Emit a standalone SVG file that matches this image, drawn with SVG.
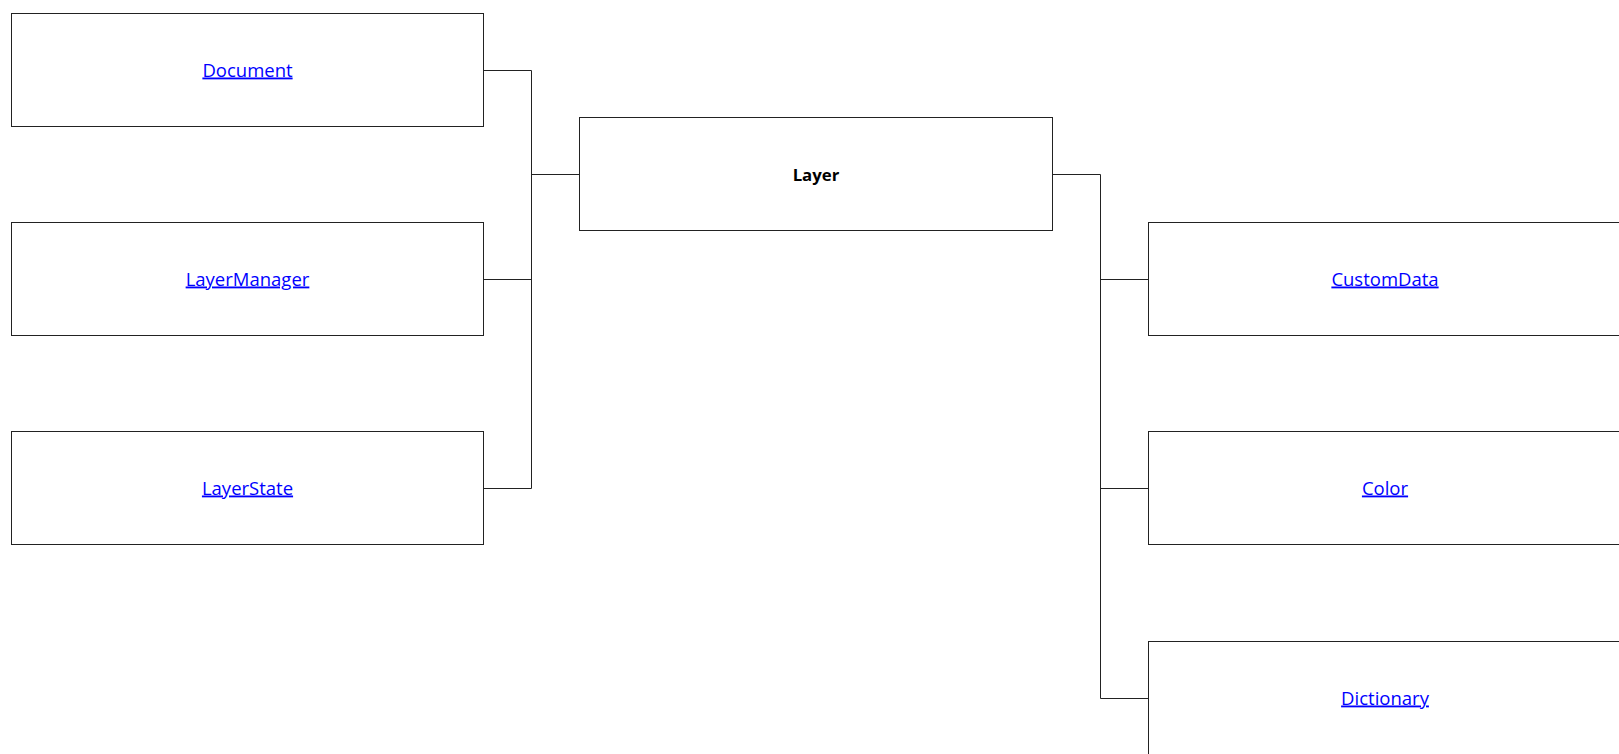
<svg xmlns="http://www.w3.org/2000/svg" width="1619" height="754" viewBox="0 0 1619 754">
<style>
.box{fill:#ffffff;stroke:#222222;stroke-width:1}
.link{font-family:"Open Sans","Noto Sans",sans-serif;font-size:18.5px;fill:#0000ff;text-decoration:underline;text-anchor:middle}
.main{font-family:"Open Sans","Noto Sans",sans-serif;font-size:16.8px;font-weight:bold;fill:#000000;text-anchor:middle}
.conn{fill:none;stroke:#222222;stroke-width:1}
</style>
<rect width="1619" height="754" fill="#ffffff"/>
<g id="connectors">
<path class="conn" d="M483.5,70.5 H531.5 V488.5 H483.5"/>
<path class="conn" d="M483.5,279.5 H531.5"/>
<path class="conn" d="M531.5,174.5 H579.5"/>
<path class="conn" d="M1052.5,174.5 H1100.5 V698.5 H1148.5"/>
<path class="conn" d="M1100.5,279.5 H1148.5"/>
<path class="conn" d="M1100.5,488.5 H1148.5"/>
</g>
<g id="node-document">
<rect class="box" x="11.5" y="13.5" width="472" height="113"/>
<text class="link" x="247.5" y="76.5">Document</text>
</g>
<g id="node-layermanager">
<rect class="box" x="11.5" y="222.5" width="472" height="113"/>
<text class="link" x="247.5" y="285.5">LayerManager</text>
</g>
<g id="node-layerstate">
<rect class="box" x="11.5" y="431.5" width="472" height="113"/>
<text class="link" x="247.5" y="494.5">LayerState</text>
</g>
<g id="node-layer">
<rect class="box" x="579.5" y="117.5" width="473" height="113"/>
<text class="main" x="816" y="180.5">Layer</text>
</g>
<g id="node-customdata">
<rect class="box" x="1148.5" y="222.5" width="473" height="113"/>
<text class="link" x="1385" y="285.5">CustomData</text>
</g>
<g id="node-color">
<rect class="box" x="1148.5" y="431.5" width="473" height="113"/>
<text class="link" x="1385" y="494.5">Color</text>
</g>
<g id="node-dictionary">
<rect class="box" x="1148.5" y="641.5" width="473" height="113"/>
<text class="link" x="1385" y="704.5">Dictionary</text>
</g>
</svg>
